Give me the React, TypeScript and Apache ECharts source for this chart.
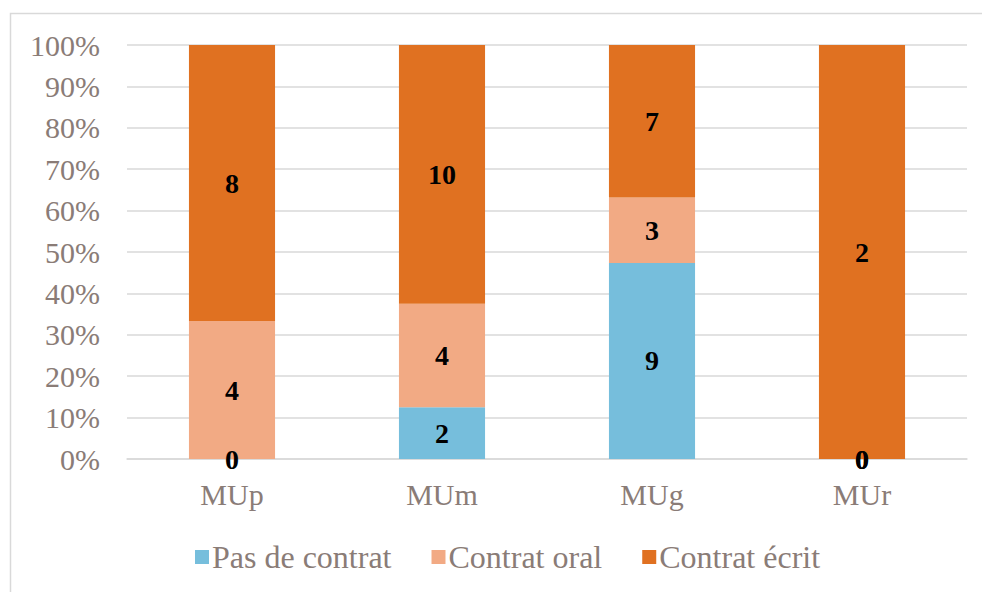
import React, { useEffect, useRef } from "react";
import * as echarts from "echarts";

const categories = ["MUp", "MUm", "MUg", "MUr"];
const seriesNames = ["Pas de contrat", "Contrat oral", "Contrat écrit"];
const pasDeContrat = [0, 2, 9, 0];
const contratOral = [4, 4, 3, 0];
const contratEcrit = [8, 10, 7, 2];
const colors = ["#76BEDC", "#F2AA84", "#E07121"];

const FONT = "'Liberation Serif', 'DejaVu Serif', serif";
const TEXT_COLOR = "#8A7C77";

export default function App() {
  const ref = useRef<HTMLDivElement>(null);
  useEffect(() => {
    if (!ref.current) return;
    const chart = echarts.init(ref.current, undefined, { renderer: "svg" });
    const all = [pasDeContrat, contratOral, contratEcrit];
    const totals = categories.map((_, i) => all.reduce((s, a) => s + a[i], 0));
    const series = all.map((arr, si) => ({
      name: seriesNames[si],
      type: "bar",
      stack: "total",
      barWidth: "41%",
      itemStyle: { color: colors[si] },
      label: {
        show: true,
        position: "inside",
        color: "#000",
        fontFamily: FONT,
        fontWeight: "bold",
        fontSize: 28,
        formatter: (p: any) => String(p.data.count),
      },
      data: arr.map((v, i) => ({ value: (v / totals[i]) * 100, count: v })),
    }));
    chart.setOption({
      animation: false,
      backgroundColor: "#fff",
      textStyle: { fontFamily: FONT },
      graphic: [
        {
          type: "rect",
          shape: { x: 10.5, y: 13.5, width: 1000, height: 700 },
          style: { fill: "none", stroke: "#D9D9D9", lineWidth: 1.5 },
          silent: true,
        },
      ],
      grid: { left: 127, right: 15, top: 45, bottom: 133, containLabel: false },
      legend: {
        top: 536,
        left: 190,
        icon: "rect",
        itemWidth: 14,
        itemHeight: 14,
        itemGap: 40,
        textStyle: { color: TEXT_COLOR, fontSize: 32, fontFamily: FONT, padding: [0, 0, 0, -2] },
        data: seriesNames,
      },
      xAxis: {
        type: "category",
        data: categories,
        axisLine: { lineStyle: { color: "#D9D9D9", width: 1.5 } },
        axisTick: { show: false },
        axisLabel: { color: TEXT_COLOR, fontSize: 30, fontFamily: FONT, margin: 20 },
      },
      yAxis: {
        type: "value",
        min: 0,
        max: 100,
        interval: 10,
        axisLine: { show: false },
        axisTick: { show: false },
        splitLine: { lineStyle: { color: "#D9D9D9", width: 1.5 } },
        axisLabel: {
          color: TEXT_COLOR,
          fontSize: 30,
          fontFamily: FONT,
          margin: 27,
          formatter: (v: number) => `${v}%`,
        },
      },
      series,
    });
    return () => chart.dispose();
  }, []);
  return <div ref={ref} style={{ width: 982, height: 592, position: "absolute", left: 0, top: 0 }} />;
}
